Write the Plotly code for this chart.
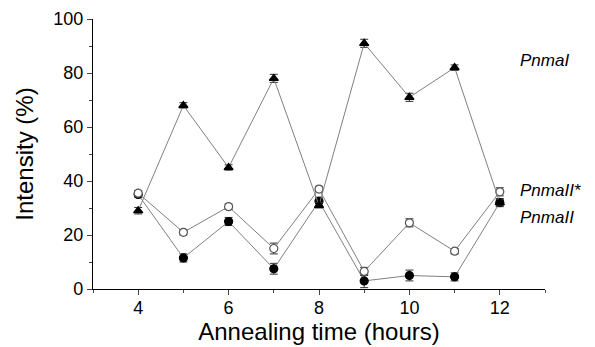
import plotly.graph_objects as go

hours = [4, 5, 6, 7, 8, 9, 10, 11, 12]
pnma1 = [29, 68, 45, 78, 31, 91, 71, 82, 32]
pnma1_err = [1.2, 1.0, 1.0, 1.5, 1.0, 1.5, 1.5, 1.0, 1.2]
pnma2s = [35.5, 21, 30.5, 15, 37, 6.5, 24.5, 14, 36]
pnma2s_err = [1.0, 1.0, 1.0, 2.0, 1.0, 1.5, 1.5, 1.0, 1.5]
pnma2 = [35, 11.5, 25, 7.5, 32.5, 3, 5, 4.5, 32]
pnma2_err = [1.0, 1.5, 1.5, 2.0, 1.5, 2.5, 2.0, 1.5, 1.5]
labels = ["<i>PnmaI</i>", "<i>PnmaII*</i>", "<i>PnmaII</i>"]
label_y = [84.5, 36.5, 26.5]

fig = go.Figure()
line = dict(color="#808080", width=1)

def add(y, err, symbol, fill, edge):
    fig.add_trace(go.Scatter(
        x=hours, y=y, mode="lines+markers", line=line,
        marker=dict(symbol=symbol, size=8, color=fill, line=dict(color=edge, width=1.2)),
        error_y=dict(type="data", array=err, color="#333", thickness=1, width=4),
        showlegend=False))

add(pnma2, pnma2_err, "circle", "black", "black")
add(pnma2s, pnma2s_err, "circle", "white", "#555")
add(pnma1, pnma1_err, "triangle-up", "black", "black")

for t, yv in zip(labels, label_y):
    fig.add_annotation(x=1.0, xref="paper", xanchor="left", y=yv, yref="y",
                       text=t, showarrow=False, xshift=-27,
                       font=dict(family="Liberation Sans, Arial", size=17, color="black"))

# page body has an 8px margin, so the figure is sized to fill the rest of the window
fig.update_layout(
    width=587, height=339, plot_bgcolor="white", paper_bgcolor="white",
    margin=dict(l=85, r=50, t=11, b=58),
    font=dict(family="Liberation Sans, Arial", color="black"),
    xaxis=dict(range=[3, 13], tickvals=[4, 6, 8, 10, 12], ticks="outside", ticklen=5,
               showgrid=False, zeroline=False, showline=True, linecolor="black", linewidth=1.2,
               tickfont=dict(size=18), automargin=False, ticklabelstandoff=-3,
               minor=dict(tickvals=[3, 5, 7, 9, 11, 13], ticks="outside", ticklen=3),
               title=dict(text="Annealing time (hours)", font=dict(size=24), standoff=0)),
    yaxis=dict(range=[0, 100], tickvals=[0, 20, 40, 60, 80, 100], ticks="outside", ticklen=5,
               showgrid=False, zeroline=False, showline=True, linecolor="black", linewidth=1.2,
               tickfont=dict(size=18), automargin=False,
               minor=dict(tickvals=[10, 30, 50, 70, 90], ticks="outside", ticklen=3),
               title=dict(text="Intensity (%)", font=dict(size=24), standoff=12)),
)

fig.write_html("out.html")
